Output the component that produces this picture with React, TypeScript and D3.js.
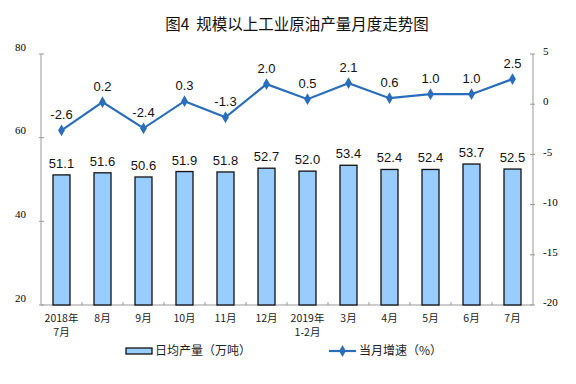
import { useEffect, useRef } from "react";
import * as d3 from "d3";

const categories = ["2018年|7月", "8月", "9月", "10月", "11月", "12月", "2019年|1-2月", "3月", "4月", "5月", "6月", "7月"];
const output = [51.1, 51.6, 50.6, 51.9, 51.8, 52.7, 52.0, 53.4, 52.4, 52.4, 53.7, 52.5];
const growth = [-2.6, 0.2, -2.4, 0.3, -1.3, 2.0, 0.5, 2.1, 0.6, 1.0, 1.0, 2.5];
const leftTicks = [20, 40, 60, 80];
const rightTicks = [-20, -15, -10, -5, 0, 5];

const W = 576;
const H = 384;
const margin = { top: 54, right: 43, bottom: 79, left: 41 };
const BAR_FILL = "#99ccff";
const LINE_COLOR = "#2a6ebb";

export default function App() {
  const svgRef = useRef<SVGSVGElement | null>(null);

  useEffect(() => {
    const svg = d3.select(svgRef.current);
    svg.selectAll("*").remove();

    const x0 = margin.left;
    const x1 = W - margin.right;
    const y0 = margin.top;
    const y1 = H - margin.bottom;

    const x = d3.scaleBand<number>().domain(d3.range(categories.length)).range([x0, x1]);
    const yL = d3.scaleLinear().domain([20, 80]).range([y1, y0]);
    const yR = d3.scaleLinear().domain([-20, 5]).range([y1, y0]);

    // title
    svg.append("text")
      .attr("x", 297)
      .attr("y", 30)
      .attr("text-anchor", "middle")
      .attr("font-family", "'Noto Sans CJK SC', sans-serif")
      .attr("font-size", 15.5)
      .attr("fill", "#111")
      .text("图4\u00a0\u00a0规模以上工业原油产量月度走势图");

    const axisColor = "#999";

    // left axis
    svg.append("line")
      .attr("x1", x0).attr("x2", x0).attr("y1", y0).attr("y2", y1)
      .attr("stroke", axisColor);
    leftTicks.forEach(t => {
      svg.append("line")
        .attr("x1", x0 - 2).attr("x2", x0 + 3).attr("y1", yL(t)).attr("y2", yL(t))
        .attr("stroke", axisColor);
      svg.append("text")
        .attr("x", 26).attr("y", yL(t)).attr("dy", "-0.3em")
        .attr("text-anchor", "end")
        .attr("font-family", "'Liberation Serif', serif")
        .attr("font-size", 11)
        .text(t);
    });

    // right axis
    svg.append("line")
      .attr("x1", x1).attr("x2", x1).attr("y1", y0).attr("y2", y1)
      .attr("stroke", axisColor);
    rightTicks.forEach(t => {
      svg.append("line")
        .attr("x1", x1 - 3).attr("x2", x1 + 2).attr("y1", yR(t)).attr("y2", yR(t))
        .attr("stroke", axisColor);
      svg.append("text")
        .attr("x", x1 + 10).attr("y", yR(t)).attr("dy", "0.1em")
        .attr("text-anchor", "start")
        .attr("font-family", "'Liberation Serif', serif")
        .attr("font-size", 11)
        .text(t);
    });

    // bottom axis
    svg.append("line")
      .attr("x1", x0).attr("x2", x1).attr("y1", y1).attr("y2", y1)
      .attr("stroke", axisColor);
    d3.range(1, categories.length).forEach(i => {
      const xx = x0 + i * x.step();
      svg.append("line")
        .attr("x1", xx).attr("x2", xx).attr("y1", y1).attr("y2", y1 - 3)
        .attr("stroke", axisColor);
    });

    categories.forEach((c, i) => {
      const lines = c.split("|");
      const t = svg.append("text")
        .attr("x", (x(i) ?? 0) + x.bandwidth() / 2)
        .attr("y", y1 + 17)
        .attr("text-anchor", "middle")
        .attr("font-family", "'Noto Sans CJK SC', sans-serif")
        .attr("font-size", 10.5)
        .attr("fill", "#222");
      lines.forEach((l, j) => {
        t.append("tspan")
          .attr("x", (x(i) ?? 0) + x.bandwidth() / 2)
          .attr("dy", j === 0 ? 0 : 14)
          .text(l);
      });
    });

    // bars
    const bw = 17;
    svg.selectAll(".bar")
      .data(output)
      .enter().append("rect")
      .attr("class", "bar")
      .attr("x", (_, i) => (x(i) ?? 0) + x.bandwidth() / 2 - bw / 2)
      .attr("y", d => yL(d))
      .attr("width", bw)
      .attr("height", d => y1 - yL(d))
      .attr("fill", BAR_FILL)
      .attr("stroke", "#111")
      .attr("stroke-width", 1.3);

    svg.selectAll(".barLabel")
      .data(output)
      .enter().append("text")
      .attr("x", (_, i) => (x(i) ?? 0) + x.bandwidth() / 2)
      .attr("y", d => yL(d) - 7)
      .attr("text-anchor", "middle")
      .attr("font-family", "'Liberation Sans', Arial, sans-serif")
      .attr("font-size", 13)
      .attr("fill", "#111")
      .text(d => d.toFixed(1));

    // line
    const cx = (i: number) => (x(i) ?? 0) + x.bandwidth() / 2;
    const line = d3.line<number>()
      .x((_, i) => cx(i))
      .y(d => yR(d));
    svg.append("path")
      .datum(growth)
      .attr("d", line)
      .attr("fill", "none")
      .attr("stroke", LINE_COLOR)
      .attr("stroke-width", 2.2);

    const diamond = d3.symbol().type(d3.symbolDiamond).size(40);
    svg.selectAll(".pt")
      .data(growth)
      .enter().append("path")
      .attr("class", "pt")
      .attr("transform", (d, i) => `translate(${cx(i)},${yR(d)})`)
      .attr("d", diamond)
      .attr("fill", LINE_COLOR);

    svg.selectAll(".ptLabel")
      .data(growth)
      .enter().append("text")
      .attr("x", (_, i) => cx(i))
      .attr("y", d => yR(d) - 11)
      .attr("text-anchor", "middle")
      .attr("font-family", "'Liberation Sans', Arial, sans-serif")
      .attr("font-size", 13)
      .attr("fill", "#111")
      .text(d => d.toFixed(1));

    // legend
    const ly = 351;
    svg.append("rect")
      .attr("x", 126).attr("y", ly - 3).attr("width", 26).attr("height", 6)
      .attr("fill", BAR_FILL).attr("stroke", "#111").attr("stroke-width", 1.3);
    svg.append("text")
      .attr("x", 155).attr("y", ly).attr("dy", "0.35em")
      .attr("font-family", "'Noto Sans CJK SC', sans-serif")
      .attr("font-size", 12)
      .attr("fill", "#222")
      .text("日均产量（万吨）");

    svg.append("line")
      .attr("x1", 329).attr("x2", 356).attr("y1", ly).attr("y2", ly)
      .attr("stroke", LINE_COLOR).attr("stroke-width", 2.2);
    svg.append("path")
      .attr("transform", `translate(342.5,${ly})`)
      .attr("d", diamond)
      .attr("fill", LINE_COLOR);
    svg.append("text")
      .attr("x", 359).attr("y", ly).attr("dy", "0.35em")
      .attr("font-family", "'Noto Sans CJK SC', sans-serif")
      .attr("font-size", 12)
      .attr("fill", "#222")
      .text("当月增速（%）");
  }, []);

  return (
    <svg
      ref={svgRef}
      width={W}
      height={H}
      style={{ position: "fixed", top: 0, left: 0, background: "#fff" }}
    />
  );
}
